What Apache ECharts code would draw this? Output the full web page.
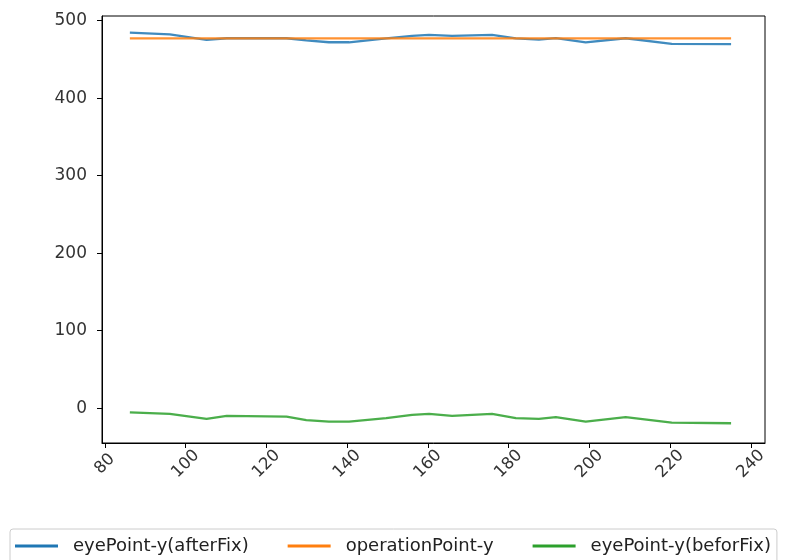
<!DOCTYPE html>
<html>
<head>
<meta charset="utf-8">
<script src="https://cdn.jsdelivr.net/npm/echarts@6/dist/echarts.min.js"></script>
<style>
  html, body { margin: 0; padding: 0; background: #fff; }
  #chart { width: 785px; height: 560px; }
</style>
</head>
<body>
<div id="chart"></div>
<script>
// Sample positions (x) and the measured y of each point
const xValues = [86.2, 96.1, 105.2, 110.2, 125.0, 129.9, 135.5, 140.5, 149.7, 156.1, 160.3, 166.0, 175.9, 181.8, 187.5, 191.7, 199.1, 209.0, 220.4, 235.1];
const eyeAfterFix = [484.5, 482.4, 475.3, 477.3, 477.3, 474.5, 472.1, 472.1, 477.0, 480.3, 481.6, 480.3, 481.6, 477.0, 475.5, 477.5, 472.1, 477.3, 470.0, 469.6];
const operationPoint = [477, 477, 477, 477, 477, 477, 477, 477, 477, 477, 477, 477, 477, 477, 477, 477, 477, 477, 477, 477];
const eyeBeforFix = [-5.5, -7.5, -14.0, -10.0, -11.0, -15.5, -17.5, -17.5, -13.0, -8.6, -7.4, -9.9, -7.4, -13.0, -13.8, -11.6, -17.3, -11.6, -18.6, -19.5];

const seriesNames = ['eyePoint-y(afterFix)', 'operationPoint-y', 'eyePoint-y(beforFix)'];
const xTicks = [80, 100, 120, 140, 160, 180, 200, 220, 240];
const yTicks = [0, 100, 200, 300, 400, 500];

const FONT = 'DejaVu Sans';
const colors = ['#1f77b4', '#ff7f0e', '#2ca02c'];

function pairs(ys) {
  return xValues.map((x, i) => [x, ys[i]]);
}

const chart = echarts.init(document.getElementById('chart'), null, { renderer: 'canvas' });

const lineSeries = [eyeAfterFix, operationPoint, eyeBeforFix].map((ys, i) => ({
  name: seriesNames[i],
  type: 'line',
  data: pairs(ys),
  showSymbol: false,
  symbol: 'none',
  smooth: false,
  lineStyle: { color: colors[i], width: 2.3, opacity: 0.85 },
  itemStyle: { color: colors[i] },
  animation: false,
  z: 2 + i
}));

chart.setOption({
  animation: false,
  textStyle: { fontFamily: FONT },
  grid: {
    left: 102, right: 20, top: 16, bottom: 117,
    show: true, borderColor: '#000', borderWidth: 1,
    containLabel: false
  },
  xAxis: {
    type: 'value',
    min: 79.3, max: 243.5,
    splitLine: { show: false },
    axisLine: { show: true, onZero: false, lineStyle: { color: '#000', width: 1 } },
    axisTick: { show: true, inside: false, length: 5, customValues: xTicks, lineStyle: { color: '#000' } },
    axisLabel: {
      customValues: xTicks,
      rotate: 45,
      align: 'center',
      verticalAlign: 'middle',
      margin: 21,
      color: '#333',
      fontFamily: FONT,
      fontSize: 16.5
    }
  },
  yAxis: {
    type: 'value',
    min: -45, max: 506,
    splitLine: { show: false },
    axisLine: { show: true, onZero: false, lineStyle: { color: '#000', width: 1 } },
    axisTick: { show: true, inside: false, length: 5, customValues: yTicks, lineStyle: { color: '#000' } },
    axisLabel: {
      customValues: yTicks,
      margin: 15,
      color: '#333',
      fontFamily: FONT,
      fontSize: 17
    }
  },
  legend: {
    data: seriesNames,
    left: 10, top: 529,
    orient: 'horizontal',
    icon: 'rect',
    itemWidth: 43, itemHeight: 3,
    itemGap: 39,
    padding: [8, 6, 20, 5],
    borderColor: '#cccccc', borderWidth: 1, borderRadius: 3,
    textStyle: { color: '#222', fontFamily: FONT, fontSize: 18, padding: [0, 0, 0, 10] }
  },
  series: lineSeries
});
</script>
</body>
</html>
